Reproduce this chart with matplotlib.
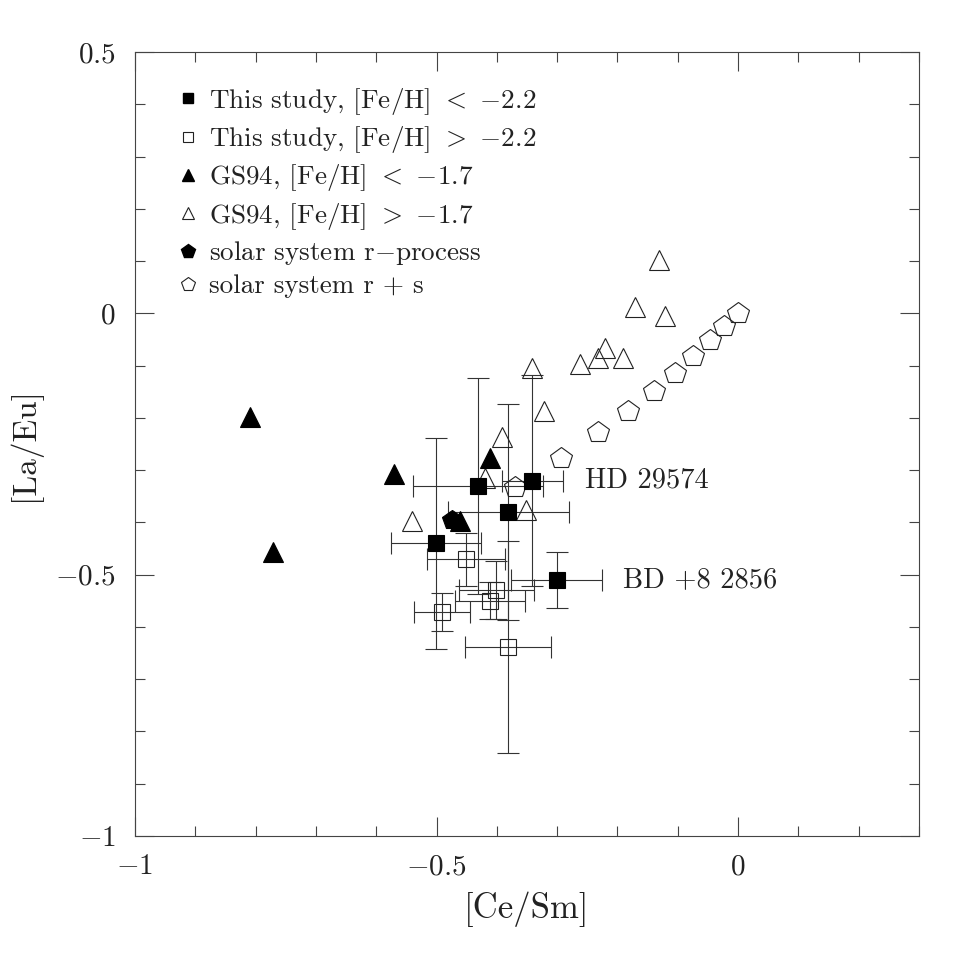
import numpy as np
import matplotlib
matplotlib.use("Agg")
import matplotlib.pyplot as plt
from matplotlib.lines import Line2D
from matplotlib.ticker import MultipleLocator, FixedLocator, FixedFormatter

plt.rcParams['font.family'] = 'cmr10'
plt.rcParams['mathtext.fontset'] = 'cm'
plt.rcParams['axes.unicode_minus'] = False

# This study, [Fe/H] < -2.2 (filled squares)
low_x = [-0.431, -0.341, -0.381, -0.501, -0.301]
low_y = [-0.330, -0.320, -0.380, -0.440, -0.510]
low_xerr = [0.108, 0.051, 0.100, 0.075, 0.076]
low_yerr = [0.207, 0.202, 0.207, 0.202, 0.053]

# This study, [Fe/H] > -2.2 (open squares)
high_x = [-0.451, -0.401, -0.411, -0.491, -0.381]
high_y = [-0.471, -0.529, -0.550, -0.571, -0.639]
high_xerr = [0.065, 0.062, 0.058, 0.047, 0.071]
high_yerr = [0.050, 0.055, 0.035, 0.036, 0.203]

# GS94, [Fe/H] < -1.7
gs_low_x = [-0.810, -0.771, -0.570, -0.411, -0.461]
gs_low_y = [-0.199, -0.457, -0.307, -0.277, -0.397]

# GS94, [Fe/H] > -1.7
gs_high_x = [-0.541, -0.420, -0.392, -0.351, -0.342, -0.321, -0.262,
             -0.232, -0.221, -0.191, -0.171, -0.121, -0.131]
gs_high_y = [-0.397, -0.316, -0.236, -0.376, -0.105, -0.186, -0.097,
             -0.086, -0.067, -0.086, 0.013, -0.006, 0.102]

# solar system r-process
r_x = [-0.475]
r_y = [-0.395]

# solar system r + s mixtures
rs_x = [0.0, -0.023, -0.046, -0.074, -0.104, -0.140, -0.182, -0.232, -0.294, -0.370]
rs_y = [0.0, -0.024, -0.051, -0.082, -0.114, -0.148, -0.186, -0.228, -0.277, -0.332]

star_names = ['HD 29574', 'BD +8 2856']
star_pos = [(-0.254, -0.320), (-0.191, -0.511)]

legend_labels = [r'This study, [Fe/H] $<$ $-$2.2',
                 r'This study, [Fe/H] $>$ $-$2.2',
                 r'GS94, [Fe/H] $<$ $-$1.7',
                 r'GS94, [Fe/H] $>$ $-$1.7',
                 r'solar system r$-$process',
                 r'solar system r + s']

ink = '#222222'
lw = 0.8

fig = plt.figure(figsize=(9.69, 9.69), dpi=100)
ax = fig.add_axes([0.1393, 0.1373, 0.8091, 0.809])

eb = dict(fmt='none', ecolor='#333333', elinewidth=lw, capsize=8, capthick=lw, zorder=2)
ax.errorbar(low_x, low_y, xerr=low_xerr, yerr=low_yerr, **eb)
ax.errorbar(high_x, high_y, xerr=high_xerr, yerr=high_yerr, **eb)

ax.plot(gs_high_x, gs_high_y, ls='none', marker='^', ms=14, mfc='none', mec=ink, mew=lw, zorder=3)
ax.plot(rs_x, rs_y, ls='none', marker='p', ms=16, mfc='none', mec=ink, mew=lw, zorder=3)
ax.plot(high_x, high_y, ls='none', marker='s', ms=11.5, mfc='none', mec=ink, mew=lw, zorder=3)
ax.plot(gs_low_x, gs_low_y, ls='none', marker='^', ms=14, mfc='black', mec='black', mew=lw, zorder=4)
ax.plot(r_x, r_y, ls='none', marker='p', ms=15, mfc='black', mec='black', mew=lw, zorder=4)
ax.plot(low_x, low_y, ls='none', marker='s', ms=11.5, mfc='black', mec='black', mew=lw, zorder=5)

for name, (tx, ty) in zip(star_names, star_pos):
    ax.text(tx, ty, name, fontsize=20.5, color=ink, va='center', ha='left')

handles = [
    Line2D([], [], ls='none', marker='s', ms=7, mfc='black', mec='black'),
    Line2D([], [], ls='none', marker='s', ms=7, mfc='none', mec=ink, mew=lw),
    Line2D([], [], ls='none', marker='^', ms=9, mfc='black', mec='black'),
    Line2D([], [], ls='none', marker='^', ms=9, mfc='none', mec=ink, mew=lw),
    Line2D([], [], ls='none', marker='p', ms=10, mfc='black', mec='black'),
    Line2D([], [], ls='none', marker='p', ms=10, mfc='none', mec=ink, mew=lw),
]
leg = ax.legend(handles, legend_labels, loc='upper left', bbox_to_anchor=(0.058, 0.957),
                frameon=False, fontsize=19.5, handlelength=0.58, handletextpad=0.47,
                labelspacing=0.27, borderpad=0, borderaxespad=0)
for t in leg.get_texts():
    t.set_color(ink)

ax.set_xlim(-1, 0.3)
ax.set_ylim(-1, 0.5)
ax.xaxis.set_major_locator(FixedLocator([-1, -0.5, 0]))
ax.xaxis.set_major_formatter(FixedFormatter([r'$-1$', r'$-0.5$', r'$0$']))
ax.yaxis.set_major_locator(FixedLocator([-1, -0.5, 0, 0.5]))
ax.yaxis.set_major_formatter(FixedFormatter([r'$-1$', r'$-0.5$', r'$0$', r'$0.5$']))
ax.xaxis.set_minor_locator(MultipleLocator(0.1))
ax.yaxis.set_minor_locator(MultipleLocator(0.1))
ax.tick_params(which='both', direction='in', top=True, right=True, color='#444444',
               width=lw, labelsize=21, labelcolor=ink)
ax.tick_params(which='major', length=14, pad=13)
ax.tick_params(which='minor', length=7)
ax.tick_params(axis='y', which='major', pad=14)
for s in ax.spines.values():
    s.set_color('#444444')
    s.set_linewidth(lw)

ax.set_xlabel('[Ce/Sm]', fontsize=25, color=ink, labelpad=8)
ax.set_ylabel('[La/Eu]', fontsize=24, color=ink, labelpad=10)

fig.savefig('out.png', dpi=100)
